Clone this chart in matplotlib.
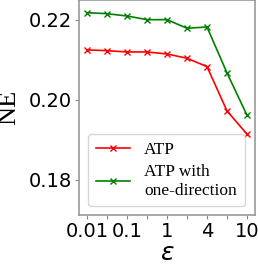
import matplotlib
matplotlib.use("Agg")
import matplotlib.pyplot as plt

eps_labels = ["0.01", "", "0.1", "", "1", "", "4", "", "10"]
atp = [0.2125, 0.21233, 0.2120, 0.2120, 0.2115, 0.21042, 0.20833, 0.19725, 0.19143]
atp_one = [0.22183, 0.22158, 0.2210, 0.22008, 0.22008, 0.21793, 0.21825, 0.20675, 0.19617]

x = list(range(len(atp)))
fig = plt.figure(figsize=(2.58, 2.65), dpi=100)
ax = fig.add_axes([79/258, 50/265, 176/258, 215/265])
ax.plot(x, atp, color="red", marker="x", markersize=4, lw=1.2, label="ATP")
ax.plot(x, atp_one, color="green", marker="x", markersize=4, lw=1.2, label="ATP with\none-direction")
ax.set_ylim(0.1712, 0.225)
ax.set_xlim(-0.4, 8.4)
ax.set_yticks([0.18, 0.20, 0.22])
ax.set_yticklabels(["0.18", "0.20", "0.22"])
ax.set_xticks(x)
ax.set_xticklabels(eps_labels)
ax.tick_params(labelsize=14, length=3, color="#888888", pad=2)
for s in ax.spines.values():
    s.set_color("#999999")
    s.set_linewidth(1.2)
ax.set_ylabel("NE", family="Liberation Serif", fontsize=19, labelpad=6)
ax.set_xlabel(r"$\varepsilon$", fontsize=18, labelpad=0)
ax.legend(loc="lower left", bbox_to_anchor=(0.05, 0.04), borderaxespad=0,
          prop={"family": "Liberation Serif", "size": 12.5},
          handlelength=2.0, handletextpad=0.8, borderpad=0.45, labelspacing=0.35, edgecolor="#cccccc")
fig.savefig("out.png", dpi=100)
